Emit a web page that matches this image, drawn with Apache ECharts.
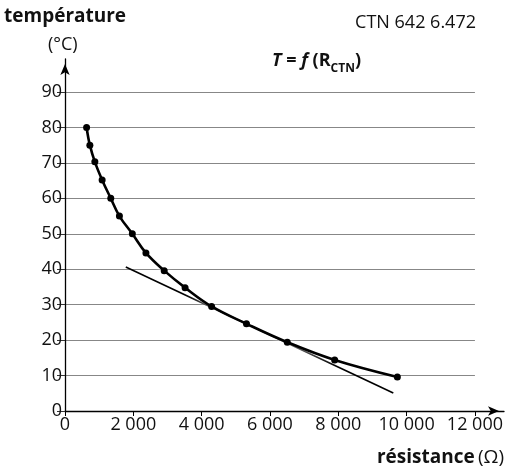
<!DOCTYPE html>
<html>
<head>
<meta charset="utf-8">
<script src="https://cdn.jsdelivr.net/npm/echarts@6/dist/echarts.min.js"></script>
<style>
  html, body { margin: 0; padding: 0; background: #fff; }
  #chart { width: 506px; height: 472px; }
</style>
</head>
<body>
<div id="chart"></div>
<script>
// Thermistor CTN 642 6.472 : temperature versus resistance
const resistance = [632, 728, 874, 1087, 1340, 1593, 1971, 2369, 2904, 3515, 4292, 5312, 6507, 7894, 9729];
const temperature = [80, 75, 70.3, 65.2, 60, 55, 50, 44.6, 39.6, 34.8, 29.5, 24.6, 19.4, 14.4, 9.6];

// Tangent drawn across the lower part of the curve
const tangentR = [1780, 9610];
const tangentT = [40.6, 5.1];

const xTicks = [0, 2000, 4000, 6000, 8000, 10000, 12000];
const yTicks = [0, 10, 20, 30, 40, 50, 60, 70, 80, 90];

const FONT = '"Open Sans", "Noto Sans", sans-serif';

function fmtThousands(v) {
  return String(v).replace(/\B(?=(\d{3})+(?!\d))/g, ' ');
}

const chart = echarts.init(document.getElementById('chart'), null, { renderer: 'canvas' });

chart.setOption({
  animation: false,
  backgroundColor: '#fff',
  textStyle: { fontFamily: FONT },
  grid: [
    // plotting grid
    { left: 65, right: 29, top: 92, bottom: 61 },
    // wider grid carrying the arrowed axis lines
    { left: 65, right: 2, top: 59, bottom: 61 }
  ],
  xAxis: [
    {
      type: 'value', gridIndex: 0,
      min: xTicks[0], max: xTicks[xTicks.length - 1], interval: 2000,
      axisLine: { show: false },
      axisTick: { show: true, inside: false, length: 5, lineStyle: { color: '#000', width: 1 } },
      axisLabel: {
        color: '#111', fontSize: 18, fontFamily: FONT, margin: 5,
        formatter: v => fmtThousands(v)
      },
      splitLine: { show: false }
    },
    {
      type: 'value', gridIndex: 1, min: 0, max: 1,
      axisLine: {
        show: true, onZero: false,
        lineStyle: { color: '#000', width: 1.3 },
        symbol: ['none', 'arrow'], symbolSize: [7, 11], symbolOffset: [0, -5]
      },
      axisTick: { show: false }, axisLabel: { show: false }, splitLine: { show: false }
    }
  ],
  yAxis: [
    {
      type: 'value', gridIndex: 0,
      min: yTicks[0], max: yTicks[yTicks.length - 1], interval: 10,
      axisLine: { show: false },
      axisTick: { show: true, length: 8, lineStyle: { color: '#333', width: 1 } },
      axisLabel: { color: '#111', fontSize: 18, fontFamily: FONT, margin: 3 },
      splitLine: { show: true, lineStyle: { color: '#878787', width: 1 } }
    },
    {
      type: 'value', gridIndex: 1, min: 0, max: 1,
      axisLine: {
        show: true, onZero: false,
        lineStyle: { color: '#000', width: 1.3 },
        symbol: ['none', 'arrow'], symbolSize: [7, 11], symbolOffset: [0, -5]
      },
      axisTick: { show: false }, axisLabel: { show: false }, splitLine: { show: false }
    }
  ],
  series: [
    {
      name: 'tangente',
      type: 'line',
      xAxisIndex: 0, yAxisIndex: 0,
      data: tangentR.map((r, i) => [r, tangentT[i]]),
      symbol: 'none',
      lineStyle: { color: '#000', width: 1.6 },
      z: 3
    },
    {
      name: 'T = f(R)',
      type: 'line',
      xAxisIndex: 0, yAxisIndex: 0,
      data: resistance.map((r, i) => [r, temperature[i]]),
      smooth: 0.4,
      symbol: 'circle',
      symbolSize: 7,
      itemStyle: { color: '#000' },
      lineStyle: { color: '#000', width: 2.6, shadowColor: '#fff', shadowBlur: 4 },
      z: 4
    }
  ],
  graphic: [
    {
      type: 'text', left: 4, top: 7,
      style: { text: 'température', font: 'bold 19px ' + FONT, fill: '#111' }
    },
    {
      type: 'text', left: 48, top: 36,
      style: { text: '(°C)', font: '18px ' + FONT, fill: '#111' }
    },
    {
      type: 'text', right: 30, top: 14,
      style: { text: 'CTN 642 6.472', font: '18px ' + FONT, fill: '#111' }
    },
    {
      type: 'text', left: 272, top: 52,
      style: {
        text: '{i|T}{b| = }{i|f}{b| (R}{s|CTN}{b|)}',
        rich: {
          i: { fontFamily: FONT, fontSize: 18, fontWeight: 'bold', fontStyle: 'italic', fill: '#111', lineHeight: 22 },
          b: { fontFamily: FONT, fontSize: 18, fontWeight: 'bold', fill: '#111', lineHeight: 22 },
          s: { fontFamily: FONT, fontSize: 12, fontWeight: 'bold', fill: '#111', lineHeight: 12, verticalAlign: 'bottom', padding: [0, 0, -3, 0] }
        }
      }
    },
    {
      type: 'text', right: 2, top: 448,
      style: {
        text: '{b|résistance} {n|(Ω)}',
        rich: {
          b: { fontFamily: FONT, fontSize: 19, fontWeight: 'bold', fill: '#111' },
          n: { fontFamily: FONT, fontSize: 19, fill: '#111' }
        }
      }
    }
  ]
});
</script>
</body>
</html>
